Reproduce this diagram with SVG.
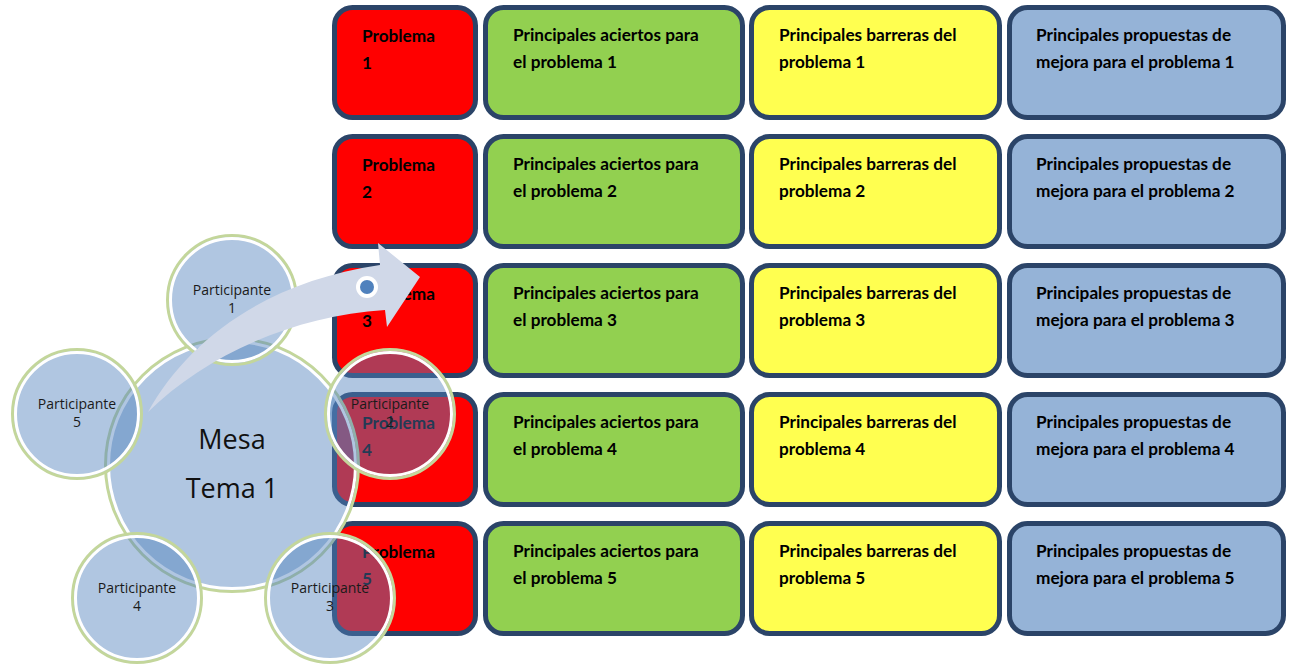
<svg xmlns="http://www.w3.org/2000/svg" width="1289" height="665" viewBox="0 0 1289 665">
<style>
.box{stroke:#2b4468;stroke-width:5}
.red{fill:#ff0000}.green{fill:#92d050}.yellow{fill:#ffff50}.blue{fill:#95b3d7}
.bt{font-family:Lato,"Liberation Sans",sans-serif;font-weight:bold;font-size:17.2px;fill:#000}
.cfill{fill:#4f81bd;fill-opacity:0.45}
.ring-g{fill:none;stroke:#c3d69b;stroke-width:3}
.ring-w{fill:none;stroke:#ffffff;stroke-width:3}
.pt{font-family:"Open Sans","DejaVu Sans",sans-serif;font-size:14px;fill:#1a1a1a;text-anchor:middle}
.mt{font-family:"Open Sans","DejaVu Sans",sans-serif;font-size:27px;fill:#111;text-anchor:middle}
</style>
<rect width="1289" height="665" fill="#ffffff"/>
<!-- Row 1 -->
<g id="problema-1"><rect class="box red" x="334.5" y="7.5" width="141" height="110" rx="18"/><text class="bt" x="362" y="42">Problema</text><text class="bt" x="362" y="69">1</text></g>
<g id="aciertos-1"><rect class="box green" x="485.5" y="7.5" width="257" height="110" rx="18"/><text class="bt" x="513" y="41">Principales aciertos para</text><text class="bt" x="513" y="68">el problema 1</text></g>
<g id="barreras-1"><rect class="box yellow" x="751.5" y="7.5" width="248" height="110" rx="18"/><text class="bt" x="779" y="41">Principales barreras del</text><text class="bt" x="779" y="68">problema 1</text></g>
<g id="propuestas-1"><rect class="box blue" x="1009.5" y="7.5" width="274" height="110" rx="18"/><text class="bt" x="1036" y="41">Principales propuestas de</text><text class="bt" x="1036" y="68">mejora para el problema 1</text></g>
<!-- Row 2 -->
<g id="problema-2"><rect class="box red" x="334.5" y="136.5" width="141" height="110" rx="18"/><text class="bt" x="362" y="171">Problema</text><text class="bt" x="362" y="198">2</text></g>
<g id="aciertos-2"><rect class="box green" x="485.5" y="136.5" width="257" height="110" rx="18"/><text class="bt" x="513" y="170">Principales aciertos para</text><text class="bt" x="513" y="197">el problema 2</text></g>
<g id="barreras-2"><rect class="box yellow" x="751.5" y="136.5" width="248" height="110" rx="18"/><text class="bt" x="779" y="170">Principales barreras del</text><text class="bt" x="779" y="197">problema 2</text></g>
<g id="propuestas-2"><rect class="box blue" x="1009.5" y="136.5" width="274" height="110" rx="18"/><text class="bt" x="1036" y="170">Principales propuestas de</text><text class="bt" x="1036" y="197">mejora para el problema 2</text></g>
<!-- Row 3 -->
<g id="problema-3"><rect class="box red" x="334.5" y="265.5" width="141" height="110" rx="18"/><text class="bt" x="362" y="300">Problema</text><text class="bt" x="362" y="327">3</text></g>
<g id="aciertos-3"><rect class="box green" x="485.5" y="265.5" width="257" height="110" rx="18"/><text class="bt" x="513" y="299">Principales aciertos para</text><text class="bt" x="513" y="326">el problema 3</text></g>
<g id="barreras-3"><rect class="box yellow" x="751.5" y="265.5" width="248" height="110" rx="18"/><text class="bt" x="779" y="299">Principales barreras del</text><text class="bt" x="779" y="326">problema 3</text></g>
<g id="propuestas-3"><rect class="box blue" x="1009.5" y="265.5" width="274" height="110" rx="18"/><text class="bt" x="1036" y="299">Principales propuestas de</text><text class="bt" x="1036" y="326">mejora para el problema 3</text></g>
<!-- Row 4 -->
<g id="problema-4"><rect class="box red" x="334.5" y="394.5" width="141" height="110" rx="18"/><text class="bt" x="362" y="429">Problema</text><text class="bt" x="362" y="456">4</text></g>
<g id="aciertos-4"><rect class="box green" x="485.5" y="394.5" width="257" height="110" rx="18"/><text class="bt" x="513" y="428">Principales aciertos para</text><text class="bt" x="513" y="455">el problema 4</text></g>
<g id="barreras-4"><rect class="box yellow" x="751.5" y="394.5" width="248" height="110" rx="18"/><text class="bt" x="779" y="428">Principales barreras del</text><text class="bt" x="779" y="455">problema 4</text></g>
<g id="propuestas-4"><rect class="box blue" x="1009.5" y="394.5" width="274" height="110" rx="18"/><text class="bt" x="1036" y="428">Principales propuestas de</text><text class="bt" x="1036" y="455">mejora para el problema 4</text></g>
<!-- Row 5 -->
<g id="problema-5"><rect class="box red" x="334.5" y="523.5" width="141" height="110" rx="18"/><text class="bt" x="362" y="558">Problema</text><text class="bt" x="362" y="585">5</text></g>
<g id="aciertos-5"><rect class="box green" x="485.5" y="523.5" width="257" height="110" rx="18"/><text class="bt" x="513" y="557">Principales aciertos para</text><text class="bt" x="513" y="584">el problema 5</text></g>
<g id="barreras-5"><rect class="box yellow" x="751.5" y="523.5" width="248" height="110" rx="18"/><text class="bt" x="779" y="557">Principales barreras del</text><text class="bt" x="779" y="584">problema 5</text></g>
<g id="propuestas-5"><rect class="box blue" x="1009.5" y="523.5" width="274" height="110" rx="18"/><text class="bt" x="1036" y="557">Principales propuestas de</text><text class="bt" x="1036" y="584">mejora para el problema 5</text></g>

<!-- Central circle -->
<g id="mesa">
<circle class="cfill" cx="232" cy="465" r="126"/>
<circle class="ring-g" cx="232" cy="465" r="126.5"/>
<circle class="ring-w" cx="232" cy="465" r="123.5"/>
</g>
<!-- Participants -->
<g id="participante-1"><circle class="cfill" cx="232" cy="300" r="64"/><circle class="ring-g" cx="232" cy="300" r="64.5"/><circle class="ring-w" cx="232" cy="300" r="61.5"/></g>
<g id="participante-2"><circle class="cfill" cx="390" cy="414" r="64"/><circle class="ring-g" cx="390" cy="414" r="64.5"/><circle class="ring-w" cx="390" cy="414" r="61.5"/></g>
<g id="participante-3"><circle class="cfill" cx="330" cy="598" r="64"/><circle class="ring-g" cx="330" cy="598" r="64.5"/><circle class="ring-w" cx="330" cy="598" r="61.5"/></g>
<g id="participante-4"><circle class="cfill" cx="137" cy="598" r="64"/><circle class="ring-g" cx="137" cy="598" r="64.5"/><circle class="ring-w" cx="137" cy="598" r="61.5"/></g>
<g id="participante-5"><circle class="cfill" cx="77" cy="414" r="64"/><circle class="ring-g" cx="77" cy="414" r="64.5"/><circle class="ring-w" cx="77" cy="414" r="61.5"/></g>

<!-- Connector arrow -->
<g id="connectors">
<path d="M148,412 C188,340 265,282 380,265 L378,243 L420,277 L387,327 L385,310 C292,316 205,356 148,412 Z" fill="#d0d8e8"/>
<circle cx="367" cy="287" r="11" fill="#ffffff"/>
<circle cx="367" cy="287" r="7" fill="#4f81bd"/>
</g>

<!-- Circle labels -->
<g id="labels">
<text class="mt" x="232" y="449">Mesa</text>
<text class="mt" x="232" y="498">Tema 1</text>
<text class="pt" x="232" y="295">Participante</text><text class="pt" x="232" y="313">1</text>
<text class="pt" x="390" y="409">Participante</text><text class="pt" x="390" y="427">2</text>
<text class="pt" x="330" y="593">Participante</text><text class="pt" x="330" y="611">3</text>
<text class="pt" x="137" y="593">Participante</text><text class="pt" x="137" y="611">4</text>
<text class="pt" x="77" y="409">Participante</text><text class="pt" x="77" y="427">5</text>
</g>
</svg>
